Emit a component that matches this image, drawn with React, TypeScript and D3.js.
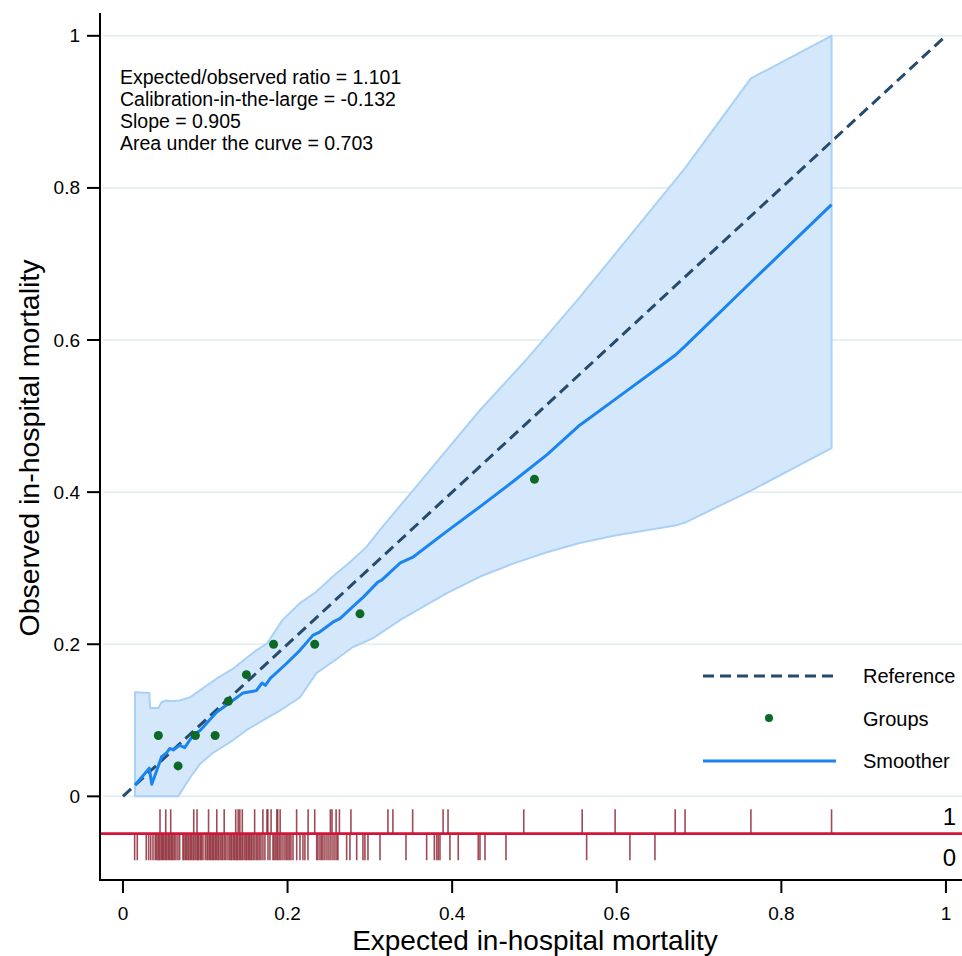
import React from "react";
import * as d3 from "d3";

// ---------- data ----------
const statLines = [
  "Expected/observed ratio = 1.101",
  "Calibration-in-the-large = -0.132",
  "Slope = 0.905",
  "Area under the curve = 0.703",
];

const xTicks = [0, 0.2, 0.4, 0.6, 0.8, 1];
const yTicks = [0, 0.2, 0.4, 0.6, 0.8, 1];

const groupX = [0.043, 0.067, 0.088, 0.112, 0.128, 0.15, 0.183, 0.233, 0.288, 0.5];
const groupY = [0.08, 0.04, 0.08, 0.08, 0.125, 0.16, 0.2, 0.2, 0.24, 0.417];

const smoothX = [0.0146, 0.032, 0.035, 0.047, 0.053, 0.057, 0.061, 0.069, 0.075, 0.085, 0.094, 0.114, 0.126, 0.146, 0.162, 0.169, 0.173, 0.179, 0.199, 0.215, 0.231, 0.239, 0.255, 0.264, 0.279, 0.292, 0.31, 0.314, 0.337, 0.353, 0.393, 0.434, 0.474, 0.515, 0.555, 0.598, 0.671, 0.683, 0.763, 0.861];
const smoothY = [0.0145, 0.037, 0.016, 0.052, 0.057, 0.063, 0.061, 0.067, 0.064, 0.08, 0.087, 0.111, 0.12, 0.136, 0.139, 0.149, 0.146, 0.155, 0.175, 0.192, 0.212, 0.216, 0.229, 0.234, 0.249, 0.262, 0.282, 0.284, 0.307, 0.315, 0.348, 0.381, 0.414, 0.449, 0.488, 0.522, 0.58, 0.592, 0.676, 0.778];

const upperX = [0.0146, 0.032, 0.033, 0.043, 0.047, 0.053, 0.057, 0.069, 0.081, 0.097, 0.114, 0.134, 0.15, 0.162, 0.175, 0.194, 0.215, 0.235, 0.255, 0.276, 0.296, 0.312, 0.353, 0.393, 0.434, 0.49, 0.555, 0.683, 0.763, 0.861];
const upperY = [0.137, 0.136, 0.116, 0.116, 0.124, 0.126, 0.125, 0.126, 0.13, 0.142, 0.155, 0.168, 0.182, 0.192, 0.201, 0.232, 0.254, 0.269, 0.289, 0.308, 0.328, 0.35, 0.403, 0.455, 0.508, 0.574, 0.656, 0.826, 0.944, 1.0];

const lowerX = [0.0146, 0.067, 0.077, 0.085, 0.094, 0.109, 0.134, 0.15, 0.17, 0.191, 0.215, 0.235, 0.255, 0.279, 0.304, 0.337, 0.393, 0.434, 0.474, 0.515, 0.555, 0.598, 0.671, 0.683, 0.763, 0.861];
const lowerY = [0.0, 0.0, 0.017, 0.03, 0.043, 0.057, 0.074, 0.087, 0.1, 0.113, 0.13, 0.162, 0.177, 0.196, 0.208, 0.232, 0.267, 0.289, 0.306, 0.321, 0.333, 0.343, 0.356, 0.36, 0.402, 0.458];

// predicted probabilities of patients who died (rug "1")
const rugEvents = [0.045, 0.052, 0.058, 0.086, 0.09, 0.104, 0.114, 0.123, 0.137, 0.14, 0.142, 0.145, 0.16, 0.17, 0.175, 0.176, 0.18, 0.187, 0.188, 0.191, 0.211, 0.225, 0.233, 0.252, 0.254, 0.259, 0.263, 0.277, 0.322, 0.328, 0.352, 0.389, 0.395, 0.487, 0.558, 0.598, 0.671, 0.683, 0.763, 0.861];

// predicted probabilities of survivors (rug "0")
const rugNonEvents = [0.0142, 0.0174, 0.0283, 0.0312, 0.0337, 0.0365, 0.0392, 0.0407, 0.0425, 0.0437, 0.045, 0.0468, 0.048, 0.0492, 0.051, 0.0522, 0.0535, 0.0553, 0.0565, 0.0583, 0.0595, 0.0608, 0.0626, 0.0644, 0.0668, 0.0689, 0.0729, 0.0741, 0.0759, 0.0772, 0.079, 0.0802, 0.082, 0.0832, 0.0851, 0.0863, 0.0881, 0.0899, 0.0911, 0.0923, 0.0942, 0.0954, 0.0972, 0.1, 0.1021, 0.1033, 0.1051, 0.1063, 0.1081, 0.1094, 0.1106, 0.1124, 0.1136, 0.1154, 0.1166, 0.1185, 0.1203, 0.1215, 0.1236, 0.1252, 0.1276, 0.1296, 0.1312, 0.1324, 0.1343, 0.1355, 0.1373, 0.1385, 0.1397, 0.1416, 0.1428, 0.1446, 0.1458, 0.1479, 0.1495, 0.1507, 0.1525, 0.1537, 0.1555, 0.1567, 0.1586, 0.1604, 0.1625, 0.164, 0.1659, 0.1677, 0.1701, 0.1725, 0.1762, 0.1786, 0.1823, 0.1835, 0.1853, 0.1871, 0.1883, 0.1902, 0.192, 0.1944, 0.1968, 0.1987, 0.2005, 0.2023, 0.2041, 0.2066, 0.2111, 0.2151, 0.2187, 0.2211, 0.2248, 0.2354, 0.2369, 0.2394, 0.2414, 0.243, 0.2454, 0.2479, 0.2503, 0.2527, 0.2552, 0.2576, 0.26, 0.2612, 0.2718, 0.2758, 0.284, 0.2916, 0.294, 0.2977, 0.3123, 0.3439, 0.369, 0.3783, 0.3812, 0.3831, 0.3852, 0.3973, 0.4074, 0.4317, 0.4338, 0.4399, 0.4654, 0.5634, 0.616, 0.6464];

const legendItems = ["Reference", "Groups", "Smoother"];
const rugLabels = ["1", "0"];

// ---------- styles ----------
const FONT = "'Liberation Sans', Arial, Helvetica, sans-serif";
const C_REF = "#254b6e";
const C_SMOOTH = "#1a84f0";
const C_BAND_FILL = "#d5e8fb";
const C_BAND_STROKE = "#a9d1f7";
const C_GROUP = "#0c6a26";
const C_RUG = "#8e2a36";
const C_RUGLINE = "#d2143a";
const C_GRID = "#e6eff2";

export default function App() {
  const W = 962, H = 956;
  const x = d3.scaleLinear().domain([-0.0279, 1.0195]).range([100, 962]);
  const y = d3.scaleLinear().domain([-0.11, 1.03]).range([880, 13]);

  const line = d3.line<[number, number]>().x(d => x(d[0])).y(d => y(d[1]));
  const smoothPts: [number, number][] = smoothX.map((v, i) => [v, smoothY[i]]);
  const upperPts: [number, number][] = upperX.map((v, i) => [v, upperY[i]]);
  const lowerPts: [number, number][] = lowerX.map((v, i) => [v, lowerY[i]]).reverse() as [number, number][];
  const bandPath = line([...upperPts, ...lowerPts]) + "Z";

  const rugLineY = y(-0.049);
  const evTop = y(-0.017);
  const neBottom = y(-0.084);

  return (
    <svg width={W} height={H} style={{ position: "absolute", left: 0, top: 0, background: "#fff" }} fontFamily={FONT}>
      <rect x={0} y={0} width={W} height={H} fill="#fff" />
      {/* grid */}
      {yTicks.map(t => (
        <line key={"g" + t} x1={103} x2={W} y1={y(t)} y2={y(t)} stroke={C_GRID} strokeWidth={2} />
      ))}
      {/* CI band */}
      <path d={bandPath} fill={C_BAND_FILL} stroke={C_BAND_STROKE} strokeWidth={2} strokeLinejoin="round" />
      {/* reference */}
      <line x1={x(0)} y1={y(0)} x2={x(1)} y2={y(1)} stroke={C_REF} strokeWidth={3} strokeDasharray="11,6" />
      {/* smoother */}
      <path d={line(smoothPts) || ""} fill="none" stroke={C_SMOOTH} strokeWidth={3} strokeLinejoin="round" />
      {/* groups */}
      {groupX.map((v, i) => (
        <circle key={"p" + i} cx={x(v)} cy={y(groupY[i])} r={4.5} fill={C_GROUP} />
      ))}
      {/* rug */}
      {rugEvents.map((v, i) => (
        <line key={"e" + i} x1={x(v)} x2={x(v)} y1={evTop} y2={rugLineY} stroke={C_RUG} strokeWidth={1.6} strokeOpacity={0.85} />
      ))}
      {rugNonEvents.map((v, i) => (
        <line key={"n" + i} x1={x(v)} x2={x(v)} y1={rugLineY} y2={neBottom} stroke={C_RUG} strokeWidth={1.6} strokeOpacity={0.85} />
      ))}
      <line x1={100} x2={W} y1={rugLineY} y2={rugLineY} stroke={C_RUGLINE} strokeWidth={2.6} />
      <text x={956} y={816} fontSize={24} textAnchor="end" dominantBaseline="central">{rugLabels[0]}</text>
      <text x={956} y={857} fontSize={24} textAnchor="end" dominantBaseline="central">{rugLabels[1]}</text>

      {/* stats text */}
      {statLines.map((s, i) => (
        <text key={"s" + i} x={120} y={77 + i * 22} fontSize={19.5} dominantBaseline="central">{s}</text>
      ))}

      {/* legend */}
      <line x1={703} x2={836} y1={676} y2={676} stroke={C_REF} strokeWidth={3} strokeDasharray="11,6" />
      <circle cx={769} cy={718} r={4} fill={C_GROUP} />
      <line x1={703} x2={836} y1={761} y2={761} stroke={C_SMOOTH} strokeWidth={3} />
      {legendItems.map((s, i) => (
        <text key={"l" + i} x={863} y={676 + i * 42.5} fontSize={20} dominantBaseline="central">{s}</text>
      ))}

      {/* axes */}
      <line x1={100} x2={100} y1={13} y2={881} stroke="#000" strokeWidth={2} />
      <line x1={99} x2={W} y1={880} y2={880} stroke="#000" strokeWidth={2} />
      {yTicks.map(t => (
        <g key={"yt" + t}>
          <line x1={87} x2={100} y1={y(t)} y2={y(t)} stroke="#000" strokeWidth={2} />
          <text x={80} y={y(t)} fontSize={19} textAnchor="end" dominantBaseline="central">{String(t)}</text>
        </g>
      ))}
      {xTicks.map(t => (
        <g key={"xt" + t}>
          <line x1={x(t)} x2={x(t)} y1={880} y2={893} stroke="#000" strokeWidth={2} />
          <text x={x(t)} y={913} fontSize={19} textAnchor="middle" dominantBaseline="central">{String(t)}</text>
        </g>
      ))}
      <text x={535} y={940} fontSize={28} textAnchor="middle" dominantBaseline="central">Expected in-hospital mortality</text>
      <text transform="translate(29,448) rotate(-90)" fontSize={28.5} textAnchor="middle" dominantBaseline="central">Observed in-hospital mortality</text>
    </svg>
  );
}
